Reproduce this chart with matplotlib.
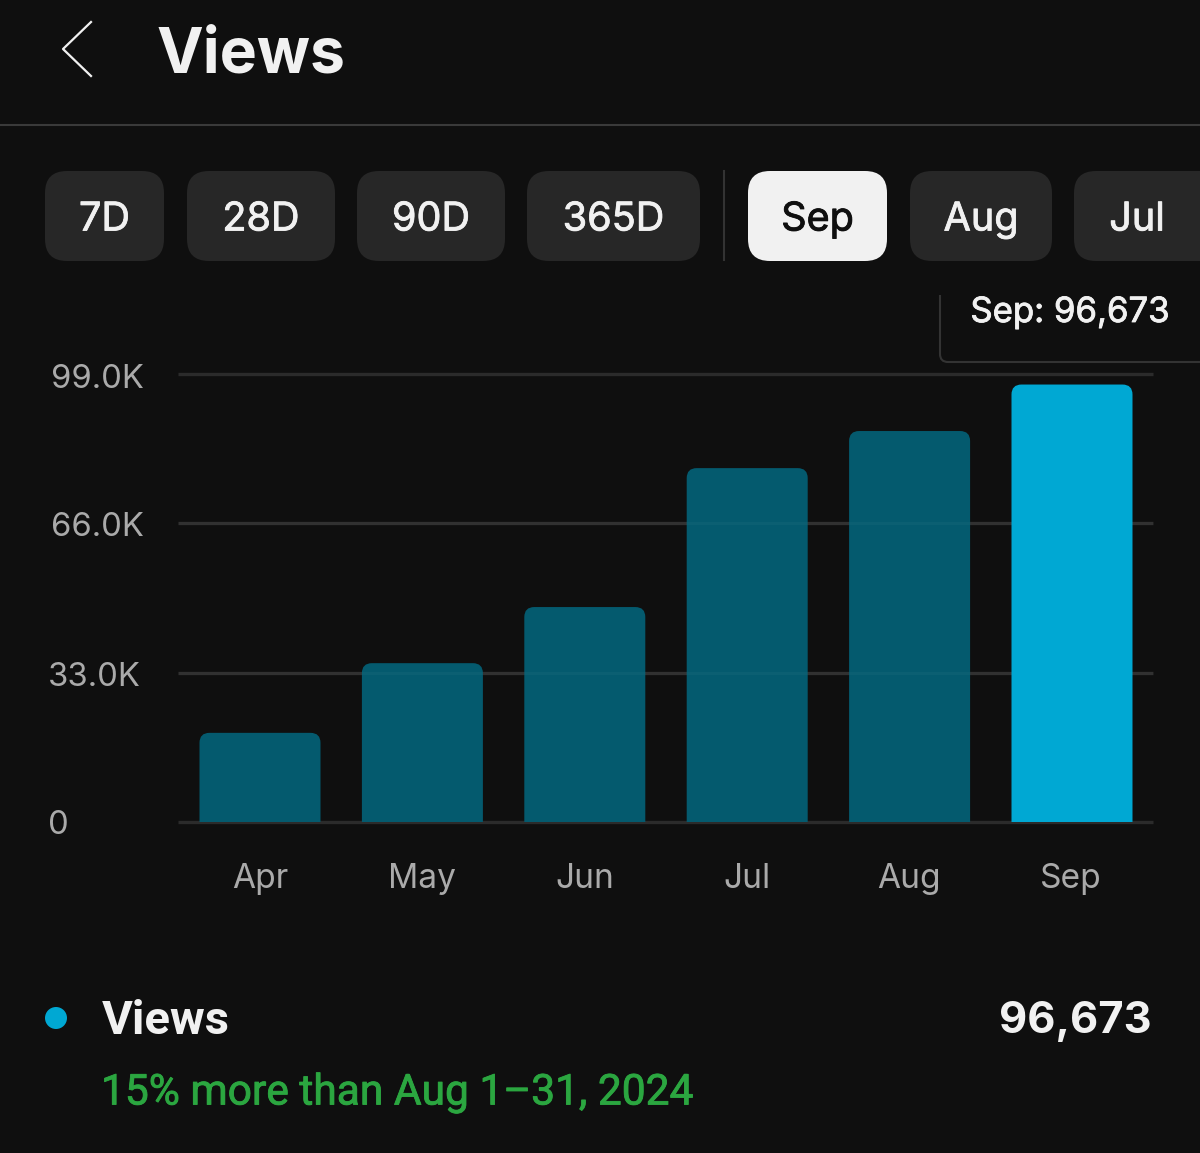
import matplotlib
matplotlib.use('Agg')
import matplotlib.pyplot as plt
import matplotlib.patheffects as pe
from matplotlib.patches import FancyBboxPatch, Circle, PathPatch
from matplotlib.path import Path

months = ['Apr', 'May', 'Jun', 'Jul', 'Aug', 'Sep']
views = [19700, 35100, 47500, 78200, 86400, 96673]
y_ticks = [0, 33000, 66000, 99000]
y_labels = ['0', '33.0K', '66.0K', '99.0K']
range_buttons = ['7D', '28D', '90D', '365D', 'Sep', 'Aug', 'Jul']
button_left = [45, 187, 357, 527, 748, 910, 1074]
button_right = [164, 335, 505, 700, 887, 1052, 1230]

BG = '#0f0f0f'
W, H = 1200, 1153
plt.rcParams['font.family'] = ['Inter', 'DejaVu Sans']

fig = plt.figure(figsize=(W / 100, H / 100), dpi=100, facecolor=BG)

# thin same colour outline stands in for a medium weight
def medium(color, width=0.6):
    return [pe.withStroke(linewidth=width, foreground=color)]

# full figure overlay in pixel coords, y going down
bg = fig.add_axes([0, 0, 1, 1])
bg.set_xlim(0, W)
bg.set_ylim(H, 0)
bg.axis('off')

# header
bg.plot([91, 63, 91], [22, 49, 76], color='#f1f1f1', lw=1.6)
bg.text(157, 56, 'Views', color='#f1f1f1', fontsize=45, fontweight='bold', va='center', ha='left')
bg.plot([0, W], [125, 125], color='#3a3a3a', lw=1.5)

# period buttons
for name, x0, x1 in zip(range_buttons, button_left, button_right):
    selected = name == 'Sep'
    box = FancyBboxPatch((x0 + 22, 171 + 22), x1 - x0 - 44, 90 - 44,
                         boxstyle='round,pad=22,rounding_size=22', lw=0,
                         fc='#f1f1f1' if selected else '#272727')
    bg.add_patch(box)
    col = '#0f0f0f' if selected else '#f1f1f1'
    bg.text(min((x0 + x1) / 2, 1137), 220, name, color=col, fontsize=28.5, ha='center', va='center',
            path_effects=medium(col))
bg.plot([724, 724], [171, 260], color='#333333', lw=1.5)

# tooltip
tip_verts = [(940, 295), (940, 354), (940, 362), (948, 362), (W, 362)]
tip_codes = [Path.MOVETO, Path.LINETO, Path.CURVE3, Path.CURVE3, Path.LINETO]
bg.add_patch(PathPatch(Path(tip_verts, tip_codes), fc='none', ec='#333333', lw=1.5))
bg.text(1170, 313, 'Sep: 96,673', color='#f1f1f1', fontsize=25, ha='right', va='center',
        path_effects=medium('#f1f1f1'))

# chart
ax = fig.add_axes([178 / W, 1 - 822 / H, (1153 - 178) / W, (822 - 374) / H])
ax.set_facecolor('none')
ax.set_ylim(0, 99000)
# bars are 162.4 px apart, first centre at 260
ax.set_xlim((178 - 260) / 162.4, (1153 - 260) / 162.4)
for s in ax.spines.values():
    s.set_visible(False)
ax.set_yticks(y_ticks)
ax.set_yticklabels([])
ax.set_xticks(range(len(months)))
ax.set_xticklabels([])
ax.tick_params(length=0)
for t in y_ticks:
    ax.plot([0, 1], [t, t], transform=ax.get_yaxis_transform(), color='#2b2b2b', lw=2.4,
            solid_capstyle='butt', clip_on=False, zorder=1)

bars = ax.bar(range(len(months)), views, width=121 / 162.4, color='#045a6e')
bars[-1].set_color('#00a8d3')
for i, b in enumerate(bars):
    b.set_visible(False)
    x, w, h = b.get_x(), b.get_width(), b.get_height()
    # rounded top only, radius given in px and converted to data units
    rx, ry = 10 / 162.4, 10 * 99000 / 448
    verts = [(x, 0), (x, h - ry), (x, h), (x + rx, h), (x + w - rx, h), (x + w, h), (x + w, h - ry), (x + w, 0), (x, 0)]
    codes = [Path.MOVETO, Path.LINETO, Path.CURVE3, Path.CURVE3, Path.LINETO, Path.CURVE3, Path.CURVE3, Path.LINETO, Path.CLOSEPOLY]
    ax.add_patch(PathPatch(Path(verts, codes), fc=b.get_facecolor(), lw=0, zorder=4 if i == len(bars) - 1 else 2))

# grid shows faintly through the dim bars
for t in y_ticks[1:3]:
    ax.plot([0, 1], [t, t], transform=ax.get_yaxis_transform(), color='white', alpha=0.03, lw=2.4,
            solid_capstyle='butt', zorder=3)

for lab, px, x in zip(y_labels, [826, 678, 527, 379], [48, 48, 51, 51]):
    bg.text(x, px, lab, color='#aaaaaa', fontsize=23.6, ha='left', va='center')
for i, m in enumerate(months):
    bg.text(260 + i * 162.2, 879, m, color='#aaaaaa', fontsize=24.1, ha='center', va='center')

# footer
bg.add_patch(Circle((56, 1018), 11, fc='#00a8d3', lw=0))
bg.text(102, 1021, 'Views', color='#f1f1f1', fontsize=34, fontweight='bold', family=['Roboto', 'DejaVu Sans'],
        ha='left', va='center')
bg.text(1152, 1021, '96,673', color='#f1f1f1', fontsize=31.3, fontweight='bold', ha='right', va='center')
bg.text(101, 1093, '15% more than Aug 1\u201331, 2024', color='#2ba640', fontsize=30.6, family=['Roboto', 'DejaVu Sans'],
        ha='left', va='center', path_effects=medium('#2ba640'))

fig.savefig('out.png', dpi=100, facecolor=BG)
